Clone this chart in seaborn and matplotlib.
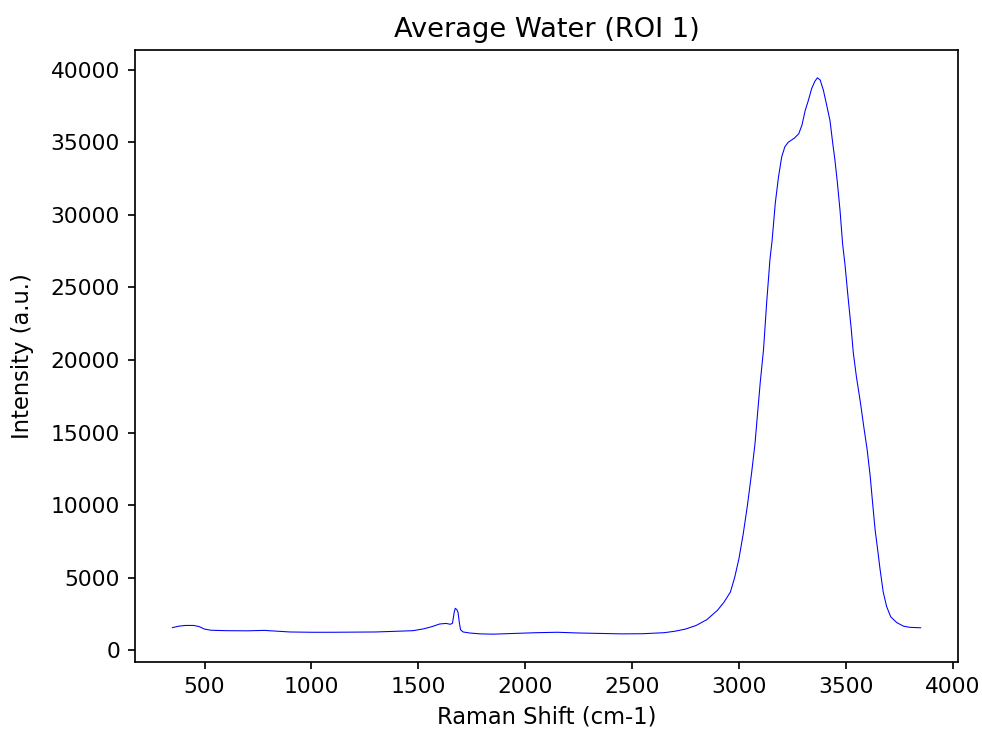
import matplotlib
matplotlib.use("Agg")
import matplotlib.pyplot as plt
import seaborn as sns
import pandas as pd

raman_shift = [350, 380, 410, 450, 475, 500, 530, 600, 700, 780, 800, 900, 1000, 1100, 1200,
               1300, 1400, 1475, 1520, 1560, 1600, 1630, 1650, 1660, 1668, 1673, 1680, 1686,
               1692, 1698, 1710, 1740, 1790, 1850, 1950, 2050, 2150, 2250, 2350, 2450, 2550,
               2650, 2700, 2750, 2800, 2850, 2900, 2930, 2960, 2980, 3000, 3020, 3040, 3060,
               3075, 3090, 3100, 3115, 3130, 3145, 3155, 3170, 3185, 3200, 3215, 3230, 3260,
               3280, 3295, 3310, 3325, 3340, 3355, 3367, 3380, 3395, 3410, 3426, 3440, 3449,
               3460, 3473, 3485, 3496, 3512, 3525, 3535, 3550, 3567, 3585, 3600, 3614, 3625,
               3637, 3650, 3660, 3675, 3691, 3710, 3738, 3770, 3800, 3832, 3850]
intensity = [1550, 1650, 1700, 1700, 1620, 1450, 1370, 1340, 1330, 1360, 1340, 1250, 1230, 1230,
             1240, 1250, 1300, 1340, 1450, 1600, 1800, 1840, 1780, 1850, 2600, 2880, 2800, 2600,
             1900, 1400, 1250, 1180, 1120, 1100, 1150, 1200, 1230, 1180, 1150, 1120, 1130, 1200,
             1300, 1450, 1700, 2100, 2750, 3300, 4000, 5000, 6300, 8000, 10000, 12300, 14200,
             16800, 18500, 20700, 24000, 26900, 28200, 30800, 32600, 34000, 34700, 35000, 35300,
             35600, 36200, 37200, 37900, 38700, 39200, 39450, 39300, 38600, 37600, 36500, 34800,
             33800, 32300, 30300, 28000, 26600, 24100, 22200, 20500, 18800, 17200, 15300, 13800,
             12000, 10200, 8300, 6800, 5600, 4000, 3000, 2300, 1900, 1650, 1570, 1550, 1540]

df = pd.DataFrame({"Raman Shift (cm-1)": raman_shift, "Intensity (a.u.)": intensity})

DPI = 153.4
fig, ax = plt.subplots(figsize=(982 / DPI, 733 / DPI), dpi=DPI)
sns.lineplot(data=df, x="Raman Shift (cm-1)", y="Intensity (a.u.)", ax=ax,
             color="blue", linewidth=0.5, estimator=None, sort=False)
ax.set_title("Average Water (ROI 1)", fontsize=12.8)
ax.set_xlabel("Raman Shift (cm-1)", fontsize=10.6)
ax.set_ylabel("Intensity (a.u.)", fontsize=10.6, labelpad=8)
ax.tick_params(labelsize=10.2)
fig.subplots_adjust(left=0.1375, right=0.9756, top=0.9318, bottom=0.0969)
fig.savefig("out.png", dpi=DPI)
